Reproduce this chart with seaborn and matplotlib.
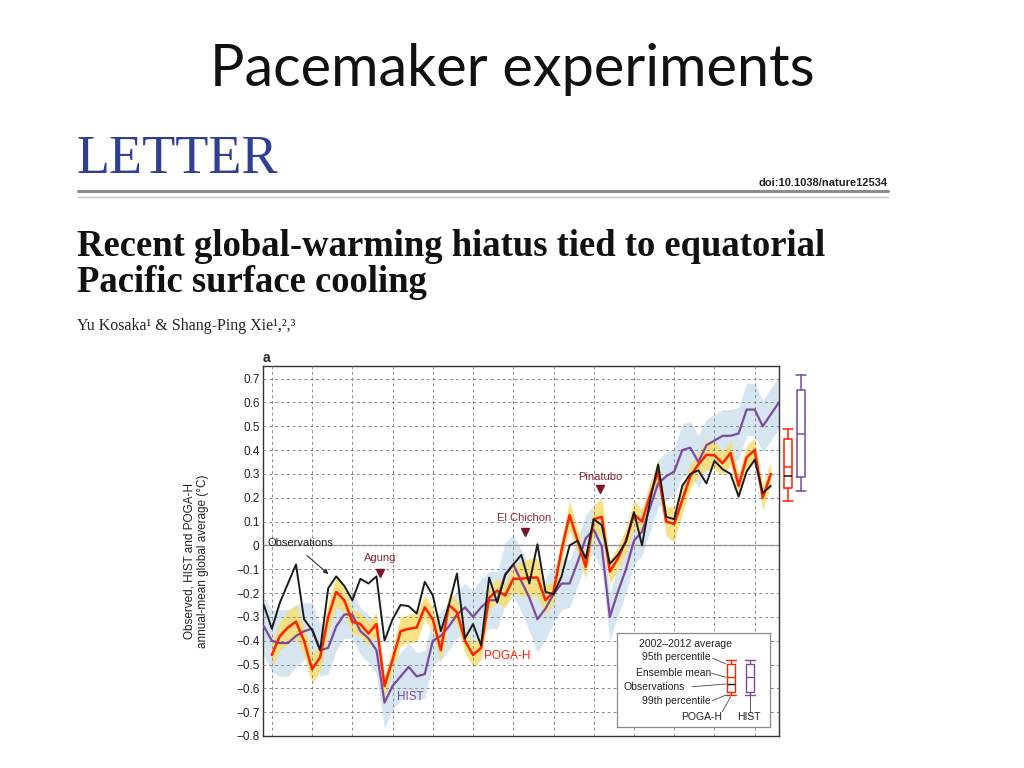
import matplotlib
matplotlib.use("Agg")
import matplotlib.pyplot as plt
from matplotlib.lines import Line2D
import numpy as np
import pandas as pd
import seaborn as sns

# ---------------- data ----------------
obs_years = list(range(1949, 2013))
obs = [-0.25, -0.35, -0.24, -0.16, -0.08, -0.31, -0.355, -0.44, -0.18, -0.13,
       -0.17, -0.23, -0.14, -0.16, -0.13, -0.40, -0.31, -0.25, -0.255, -0.286,
       -0.153, -0.21, -0.36, -0.25, -0.118, -0.39, -0.33, -0.42, -0.135, -0.24,
       -0.125, -0.08, -0.04, -0.16, 0.005, -0.195, -0.205, -0.13, 0.0, 0.02,
       -0.055, 0.11, 0.085, -0.077, -0.04, 0.015, 0.14, 0.0, 0.19, 0.34,
       0.12, 0.11, 0.25, 0.30, 0.315, 0.26, 0.355, 0.32, 0.30, 0.205,
       0.31, 0.36, 0.22, 0.25]

poga_years = list(range(1950, 2013))
poga = [-0.46, -0.38, -0.345, -0.32, -0.40, -0.52, -0.47, -0.30, -0.195, -0.23,
        -0.32, -0.33, -0.37, -0.33, -0.59, -0.48, -0.36, -0.35, -0.345, -0.26,
        -0.31, -0.44, -0.25, -0.28, -0.40, -0.46, -0.43, -0.22, -0.19, -0.21,
        -0.14, -0.14, -0.135, -0.135, -0.23, -0.195, -0.02, 0.127, 0.02, -0.09,
        0.11, 0.12, -0.11, -0.055, 0.02, 0.13, 0.10, 0.21, 0.31, 0.10,
        0.09, 0.19, 0.29, 0.34, 0.38, 0.378, 0.345, 0.388, 0.25, 0.37,
        0.40, 0.20, 0.30]
poga_spread = [0.05, 0.06, 0.07, 0.07, 0.06, 0.06, 0.06, 0.06, 0.06, 0.05,
               0.05, 0.05, 0.05, 0.05, 0.05, 0.05, 0.06, 0.06, 0.06, 0.05,
               0.05, 0.05, 0.05, 0.05, 0.05, 0.05, 0.05, 0.05, 0.05, 0.05,
               0.06, 0.07, 0.08, 0.08, 0.06, 0.05, 0.05, 0.06, 0.05, 0.05,
               0.06, 0.08, 0.05, 0.05, 0.05, 0.06, 0.05, 0.05, 0.05, 0.06,
               0.075, 0.06, 0.05, 0.05, 0.06, 0.06, 0.05, 0.05, 0.05, 0.05,
               0.05, 0.05, 0.05]

hist_years = list(range(1949, 2014))
hist = [-0.34, -0.40, -0.41, -0.41, -0.38, -0.36, -0.35, -0.44, -0.43, -0.34,
        -0.29, -0.29, -0.36, -0.39, -0.44, -0.66, -0.59, -0.55, -0.51, -0.55,
        -0.54, -0.40, -0.38, -0.34, -0.29, -0.26, -0.30, -0.26, -0.23, -0.23,
        -0.12, -0.08, -0.15, -0.22, -0.31, -0.265, -0.205, -0.16, -0.16, -0.07,
        0.03, 0.066, -0.005, -0.30, -0.195, -0.10, 0.02, 0.057, 0.16, 0.26,
        0.29, 0.31, 0.40, 0.41, 0.35, 0.42, 0.44, 0.46, 0.46, 0.47,
        0.57, 0.57, 0.50, 0.55, 0.60]
hist_spread = [0.12, 0.13, 0.14, 0.14, 0.13, 0.12, 0.11, 0.11, 0.11, 0.10,
               0.10, 0.10, 0.10, 0.10, 0.10, 0.11, 0.10, 0.10, 0.10, 0.10,
               0.10, 0.10, 0.10, 0.10, 0.10, 0.10, 0.11, 0.12, 0.12, 0.12,
               0.13, 0.13, 0.13, 0.14, 0.14, 0.13, 0.12, 0.11, 0.10, 0.10,
               0.10, 0.10, 0.10, 0.10, 0.10, 0.10, 0.10, 0.10, 0.10, 0.10,
               0.10, 0.10, 0.11, 0.11, 0.11, 0.11, 0.11, 0.11, 0.11, 0.11,
               0.11, 0.11, 0.11, 0.11, 0.11]

# 2002-2012 average box summaries
box_names = ["POGA-H", "HIST"]
box_whislo = [0.185, 0.23]
box_q1 = [0.24, 0.287]
box_med = [0.327, 0.469]
box_q3 = [0.448, 0.654]
box_whishi = [0.487, 0.714]
obs_2002_2012 = 0.29

ytick_vals = [0.7, 0.6, 0.5, 0.4, 0.3, 0.2, 0.1, 0.0, -0.1, -0.2, -0.3, -0.4,
              -0.5, -0.6, -0.7, -0.8]
ytick_labels = ["0.7", "0.6", "0.5", "0.4", "0.3", "0.2", "0.1", "0", "\u22120.1",
                "\u22120.2", "\u22120.3", "\u22120.4", "\u22120.5", "\u22120.6",
                "\u22120.7", "\u22120.8"]
xgrid_years = list(range(1950, 2011, 5))

volcano_names = ["Agung", "El Chichon", "Pinatubo"]
volcano_x = [1963.5, 1981.4, 1990.8]
volcano_label_y = [-0.054, 0.113, 0.287]
volcano_mark_y = [-0.115, 0.058, 0.235]

# ---------------- style ----------------
sns.set_theme(style="white")
plt.rcParams['font.family'] = ['Liberation Sans', 'DejaVu Sans']

W, H = 1024, 768
fig = plt.figure(figsize=(W / 100, H / 100), dpi=100)
fig.patch.set_facecolor("white")


def fx(x):
    return x / W


def fy(y):
    return 1 - y / H


# ---------------- slide header ----------------
fig.text(fx(512), fy(86), "Pacemaker experiments", ha="center", va="baseline",
         fontsize=41.5, family=["Lato", "DejaVu Sans"], color="#111111")
fig.text(fx(76), fy(173), "LETTER", ha="left", va="baseline", fontsize=39,
         family=["Liberation Serif", "DejaVu Serif"], color="#2f3f92")
fig.text(fx(888), fy(186), "doi:10.1038/nature12534", ha="right", va="baseline",
         fontsize=8, fontweight="bold", color="#222222")
fig.add_artist(Line2D([fx(78), fx(888)], [fy(190.5), fy(190.5)], color="#8c8c8c", lw=2.2))
fig.add_artist(Line2D([fx(78), fx(888)], [fy(197), fy(197)], color="#c4c4c4", lw=1.0))
fig.text(fx(77), fy(256), "Recent global-warming hiatus tied to equatorial",
         ha="left", va="baseline", fontsize=26.4, fontweight="bold",
         family=["Liberation Serif", "DejaVu Serif"], color="#111111")
fig.text(fx(77), fy(292), "Pacific surface cooling",
         ha="left", va="baseline", fontsize=26.4, fontweight="bold",
         family=["Liberation Serif", "DejaVu Serif"], color="#111111")
fig.text(fx(77), fy(330), "Yu Kosaka\u00b9 & Shang-Ping Xie\u00b9,\u00b2,\u00b3",
         ha="left", va="baseline", fontsize=11.5,
         family=["Liberation Serif", "DejaVu Serif"], color="#222222")

# ---------------- main chart ----------------
L, R, T, B = 263, 779, 366, 736
ax = fig.add_axes([fx(L), fy(B), fx(R - L), (B - T) / H])
ax.set_xlim(1948.9, 2013.02)
ax.set_ylim(-0.8, 0.753)

hist_lo = [m - s for m, s in zip(hist, hist_spread)]
hist_hi = [m + s for m, s in zip(hist, hist_spread)]
poga_lo = [m - s for m, s in zip(poga, poga_spread)]
poga_hi = [m + s for m, s in zip(poga, poga_spread)]
ax.fill_between(hist_years, hist_lo, hist_hi, color="#d6e6f0", lw=0, zorder=1)
ax.fill_between(poga_years, poga_lo, poga_hi, color="#f8dd70", alpha=0.85, lw=0, zorder=1.2)

df_h = pd.DataFrame({"year": hist_years, "val": hist})
df_p = pd.DataFrame({"year": poga_years, "val": poga})
df_o = pd.DataFrame({"year": obs_years, "val": obs})
sns.lineplot(data=df_h, x="year", y="val", ax=ax, color="#7b4a9e", lw=1.6, zorder=3)
sns.lineplot(data=df_p, x="year", y="val", ax=ax, color="#ff2200", lw=1.8, zorder=3.2)
sns.lineplot(data=df_o, x="year", y="val", ax=ax, color="#1c1c1c", lw=1.4, zorder=3.4)

ax.set_xticks(xgrid_years)
ax.set_xticklabels([])
ax.set_yticks(ytick_vals)
ax.set_yticklabels(ytick_labels)
ax.tick_params(axis="x", length=0)
ax.tick_params(axis="y", length=0, pad=2.5, labelsize=8.5, labelcolor="#222222")
ax.set_axisbelow(False)
ax.grid(True, color="#8a8a8a", lw=0.7, ls=(0, (3, 3)), zorder=2)
ax.axhline(0, color="#a0a0a0", lw=1.0, zorder=2.1)
for s in ax.spines.values():
    s.set_color("#333333")
    s.set_linewidth(1.0)
ax.set_xlabel("")
ax.set_ylabel("Observed, HIST and POGA-H\nannual-mean global average (\u00b0C)",
              fontsize=8.5, color="#222222", linespacing=1.15)
ax.yaxis.set_label_coords((209 - L) / (R - L), (B - 561) / (B - T))

fig.text(fx(263), fy(358), "a", fontsize=10, fontweight="bold", ha="left", va="center")

# annotations
ax.text(1949.5, 0.008, "Observations", fontsize=8, color="#222222", ha="left", va="center", zorder=5)
ax.annotate("", xy=(1957.3, -0.128), xytext=(1954.1, -0.035),
            arrowprops=dict(arrowstyle="-|>", color="#333333", lw=0.8, mutation_scale=7), zorder=5)
for name, vx, ly, my in zip(volcano_names, volcano_x, volcano_label_y, volcano_mark_y):
    ax.text(vx, ly, name, fontsize=8, color="#8e2232", ha="center", va="center", zorder=5)
    ax.plot([vx], [my], marker="v", ms=6, color="#7a1428", zorder=5)
ax.text(1976.4, -0.465, "POGA-H", fontsize=8.5, color="#ff2200", ha="left", va="center", zorder=5)
ax.text(1965.6, -0.635, "HIST", fontsize=8.5, color="#7b4a9e", ha="left", va="center", zorder=5)

# ---------------- 2002-2012 boxes right of the axes ----------------
ax2 = fig.add_axes([fx(780), fy(B), fx(34), (B - T) / H], sharey=ax)
ax2.set_xlim(780, 814)
ax2.axis("off")
stats = []
for i, n in enumerate(box_names):
    stats.append(dict(label=n, whislo=box_whislo[i], q1=box_q1[i], med=box_med[i],
                      q3=box_q3[i], whishi=box_whishi[i], fliers=[]))
box_cols = ["#ff2200", "#7b4a9e"]
art = ax2.bxp(stats, positions=[787.8, 800.8], widths=8, capwidths=10,
              showfliers=False, manage_ticks=False)
for i, c in enumerate(box_cols):
    art["boxes"][i].set_color(c)
    art["medians"][i].set_color(c)
    for k in (2 * i, 2 * i + 1):
        art["whiskers"][k].set_color(c)
        art["caps"][k].set_color(c)
for key in ("boxes", "medians", "whiskers", "caps"):
    for a in art[key]:
        a.set_linewidth(1.1)
ax2.hlines(obs_2002_2012, 783.8, 791.8, color="#111111", lw=1.1)

# ---------------- inset legend ----------------
lg = fig.add_axes([fx(617), fy(727), fx(153), 94 / H])
lg.set_xlim(617, 770)
lg.set_ylim(727, 633)
lg.set_xticks([])
lg.set_yticks([])
lg.set_facecolor("white")
for s in lg.spines.values():
    s.set_color("#8a8a8a")
    s.set_linewidth(0.9)
lfs = 7.5
lg.text(685.5, 644, "2002\u20132012 average", fontsize=lfs, ha="center", va="center", color="#222222")
lg.text(711, 657.5, "95th percentile", fontsize=lfs, ha="right", va="center", color="#222222")
lg.text(711, 672.5, "Ensemble mean", fontsize=lfs, ha="right", va="center", color="#222222")
lg.text(624, 687.5, "Observations", fontsize=lfs, ha="left", va="center", color="#222222")
lg.text(711, 701.5, "99th percentile", fontsize=lfs, ha="right", va="center", color="#222222")
lg.text(702, 716.5, "POGA-H", fontsize=lfs, ha="center", va="center", color="#222222")
lg.text(748.5, 717.5, "HIST", fontsize=lfs, ha="center", va="center", color="#222222")
leg_stats = [dict(whislo=695, q1=691.7, med=677.3, q3=664.3, whishi=660, fliers=[]),
             dict(whislo=695, q1=691.7, med=677.3, q3=664.3, whishi=660, fliers=[])]
art2 = lg.bxp(leg_stats, positions=[730.8, 750.2], widths=8.3, capwidths=10,
              showfliers=False, manage_ticks=False)
for i, c in enumerate(box_cols):
    art2["boxes"][i].set_color(c)
    art2["medians"][i].set_color(c)
    for k in (2 * i, 2 * i + 1):
        art2["whiskers"][k].set_color(c)
        art2["caps"][k].set_color(c)
for key in ("boxes", "medians", "whiskers", "caps"):
    for a in art2[key]:
        a.set_linewidth(1.0)
lg.hlines(684, 726.6, 735, color="#111111", lw=1.0)
leaders = [((712.7, 658.3), (726.0, 664.0)),
           ((711.7, 673.3), (726.0, 677.3)),
           ((692.0, 686.7), (726.0, 684.0)),
           ((712.3, 700.7), (726.0, 695.0)),
           ((722.3, 711.7), (730.7, 696.7)),
           ((750.0, 712.3), (750.0, 696.0))]
for (x1, y1), (x2, y2) in leaders:
    lg.plot([x1, x2], [y1, y2], color="#444444", lw=0.6)

fig.savefig("out.png", dpi=100, facecolor="white")
